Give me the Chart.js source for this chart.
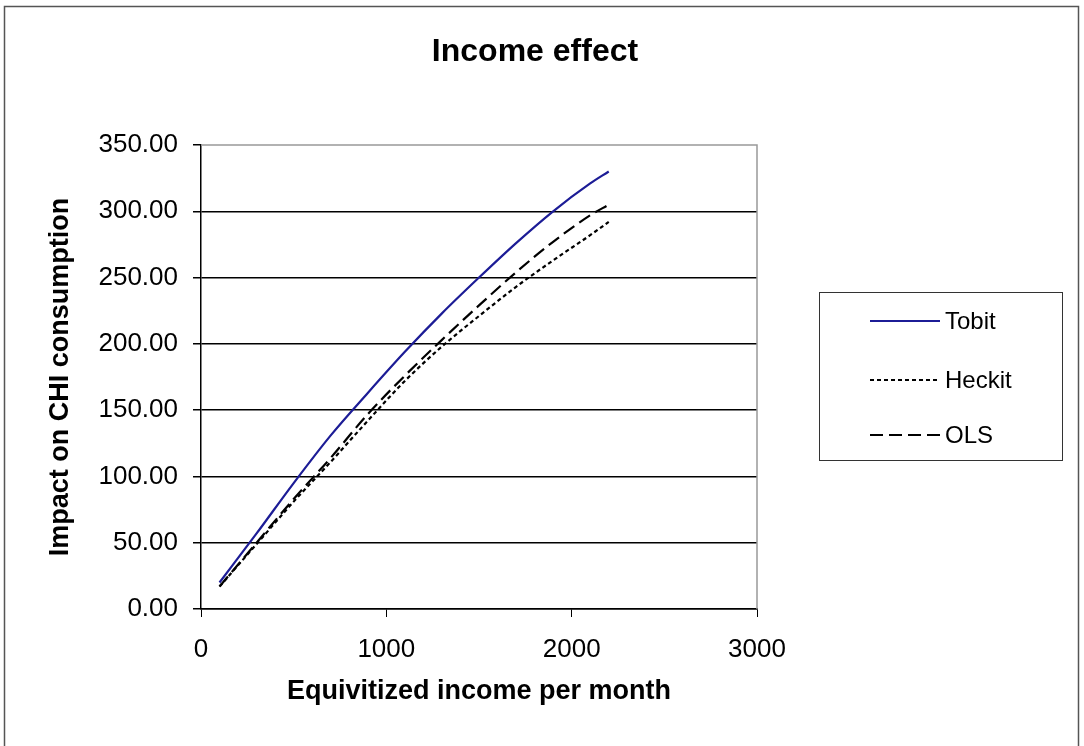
<!DOCTYPE html>
<html lang="en">
<head>
  <meta charset="UTF-8">
  <title>Income effect</title>
  <script src="https://cdn.jsdelivr.net/npm/chart.js"></script>
  <style>
    body { margin: 0; padding: 0; background: #fff; }
    .wrap { width: 1084px; height: 746px; position: relative; }
  </style>
</head>
<body>
  <div class="wrap">
    <canvas id="incomeChart" width="1084" height="746"></canvas>
  </div>

  <script>
    // income per month (x) and impact on CHI consumption for each model
    const income = [100, 300, 500, 700, 900, 1100, 1300, 1500, 1700, 1900, 2100, 2200];
    const tobit  = [20, 57, 95, 131, 163, 194, 223, 250, 276, 300, 321, 330];
    const heckit = [17, 49, 81, 111, 142, 172, 198, 221, 243, 263, 282, 292];
    const ols    = [17, 50, 83, 114, 147, 176, 203, 229, 254, 277, 297, 305];
    const seriesNames = ['Tobit', 'Heckit', 'OLS'];
    const xTicks = [0, 1000, 2000, 3000];

    const pts = ys => income.map((x, i) => ({ x: x, y: ys[i] }));
    const FONT = '"Liberation Sans", Arial, sans-serif';

    // frame, title and the boxed legend, drawn like the Excel original
    const decor = {
      id: 'decor',
      afterDraw(chart) {
        const ctx = chart.ctx;
        const a = chart.chartArea;
        ctx.save();
        // outer frame
        ctx.strokeStyle = '#555';
        ctx.lineWidth = 1.5;
        ctx.strokeRect(4.5, 6.5, 1074, 742);
        // gray plot frame top / right
        ctx.strokeStyle = '#999';
        ctx.lineWidth = 1.5;
        ctx.beginPath();
        ctx.moveTo(a.left, a.top);
        ctx.lineTo(a.right, a.top);
        ctx.lineTo(a.right, a.bottom);
        ctx.stroke();
        // title
        ctx.fillStyle = '#000';
        ctx.font = 'bold 32px ' + FONT;
        ctx.textAlign = 'center';
        ctx.textBaseline = 'middle';
        ctx.fillText('Income effect', 535, 52);
        // legend
        ctx.strokeStyle = '#333';
        ctx.lineWidth = 1;
        ctx.strokeRect(819.5, 292.5, 243, 168);
        const rows = [321, 380, 435];
        ctx.font = '24px ' + FONT;
        ctx.textAlign = 'left';
        chart.data.datasets.forEach((ds, i) => {
          ctx.strokeStyle = ds.borderColor;
          ctx.lineWidth = ds.borderWidth;
          ctx.setLineDash(ds.borderDash || []);
          ctx.beginPath();
          ctx.moveTo(870, rows[i]);
          ctx.lineTo(940, rows[i]);
          ctx.stroke();
          ctx.setLineDash([]);
          ctx.fillStyle = '#000';
          ctx.fillText(ds.label, 945, rows[i] + 1);
        });
        ctx.restore();
      }
    };

    new Chart(document.getElementById('incomeChart'), {
      type: 'line',
      data: {
        datasets: [
          { label: seriesNames[0], data: pts(tobit),  borderColor: '#1c1c96', borderWidth: 2.2 },
          { label: seriesNames[1], data: pts(heckit), borderColor: '#000', borderWidth: 2.2, borderDash: [4, 3] },
          { label: seriesNames[2], data: pts(ols),    borderColor: '#000', borderWidth: 2.2, borderDash: [13, 6] }
        ]
      },
      options: {
        responsive: false,
        animation: false,
        layout: { padding: { top: 145, right: 327, left: 0, bottom: 0 } },
        elements: {
          point: { radius: 0 },
          line: { cubicInterpolationMode: 'monotone', fill: false }
        },
        plugins: {
          legend: { display: false },
          tooltip: { enabled: false }
        },
        scales: {
          x: {
            type: 'linear',
            min: 0,
            max: 3000,
            afterBuildTicks: s => { s.ticks = xTicks.map(v => ({ value: v })); },
            afterFit: s => { s.height = 137; },
            grid: { drawOnChartArea: false, drawTicks: true, tickLength: 8, tickColor: '#000' },
            border: { color: '#000', width: 1.5 },
            ticks: {
              color: '#000',
              padding: 17,
              maxRotation: 0,
              callback: v => String(v),
              font: { family: FONT, size: 26 }
            },
            title: {
              display: true,
              text: 'Equivitized income per month',
              color: '#000',
              padding: { top: 0, bottom: 38 },
              font: { family: FONT, size: 27, weight: 'bold' }
            }
          },
          y: {
            min: 0,
            max: 350,
            afterFit: s => { s.width = 201; },
            grid: {
              color: ctx => ctx.tick && ctx.tick.value === 350 ? 'rgba(0,0,0,0)' : '#000',
              lineWidth: 1.5,
              drawTicks: true,
              tickLength: 8,
              tickColor: '#000'
            },
            border: { color: '#000', width: 1.5 },
            ticks: {
              stepSize: 50,
              color: '#000',
              padding: 15,
              callback: v => v.toFixed(2),
              font: { family: FONT, size: 26 }
            },
            title: {
              display: true,
              text: 'Impact on CHI consumption',
              color: '#000',
              padding: { top: 44, bottom: 0 },
              font: { family: FONT, size: 27, weight: 'bold' }
            }
          }
        }
      },
      plugins: [decor]
    });
  </script>
</body>
</html>
